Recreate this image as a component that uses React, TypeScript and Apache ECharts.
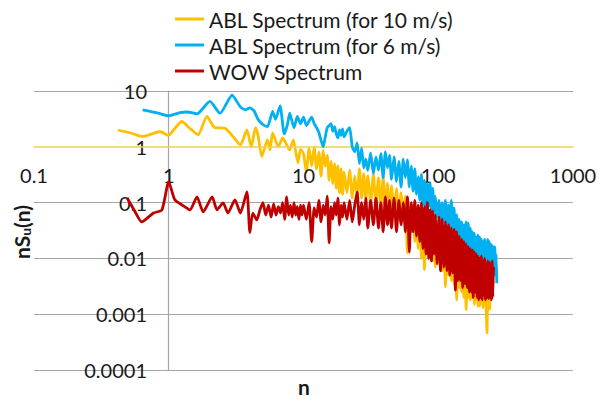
import React, { useEffect, useRef } from "react";
import * as echarts from "echarts";

const seriesNames = ["ABL Spectrum (for 10 m/s)", "ABL Spectrum (for 6 m/s)", "WOW Spectrum"];
const seriesColors = ["#FFC000", "#00B0F0", "#C00000"];
const xTickLabels = ["0.1", "1", "10", "100", "1000"];
const yTickLabels = ["0.0001", "0.001", "0.01", "0.1", "1", "10"];

// shared frequency grid (n >= 10)
const nGrid = [
  10, 10.5, 11, 11.5, 12, 12.5, 13, 13.5, 14, 14.5, 15, 15.5, 16, 16.5, 17, 17.5, 18, 18.5, 19, 19.5, 20,
  21, 22, 23, 24, 25, 26, 27, 28, 29, 30,
  31.5, 33, 34.5, 36, 37.5, 39, 40.5, 42, 43.5, 45,
  47, 49, 51, 53, 55, 57, 59, 61, 63, 65,
  67, 69, 71, 73, 75, 77, 79, 81, 83, 85,
  87, 89, 91, 93, 95, 98, 101, 104, 107, 110,
  113, 116, 119, 122, 125, 128, 131, 134, 137, 140,
  143, 146, 149, 152, 155, 158, 161, 164, 167, 170,
  173, 176, 179, 182, 185, 188, 191, 194, 197, 200,
  203, 206, 209, 212, 215, 218, 221, 224, 227, 230,
  233, 236, 239, 242, 245, 248, 251, 254, 257, 260,
  263, 266, 269, 272,
];

// ABL 10 m/s
const orangeLow: [number, number][] = [
  [0.42, 2.0], [0.53, 1.75], [0.64, 1.53], [0.75, 1.7], [0.86, 1.88], [0.99, 1.6], [1.12, 2.2],
  [1.25, 2.84], [1.45, 2.1], [1.65, 1.64], [1.92, 3.5], [2.2, 2.2], [2.6, 2.17], [3.0, 1.53],
  [3.4, 1.08], [3.8, 2.0], [4.1, 1.0], [4.4, 2.2], [4.6, 1.6], [4.9, 0.67], [5.4, 1.33], [5.65, 0.88],
  [5.9, 1.78], [6.5, 1.0], [7.0, 1.45], [7.9, 0.88], [8.4, 1.33], [9.1, 0.52], [9.5, 0.9],
];
const orangeGrid = [
  0.75, 0.35, 0.95, 0.45, 1.0, 0.4, 0.8, 0.3, 0.85, 0.45, 0.7, 0.25, 0.55, 0.22, 0.5, 0.18, 0.45, 0.15, 0.4, 0.14, 0.35,
  0.15, 0.38, 0.12, 0.3, 0.13, 0.4, 0.12, 0.33, 0.11, 0.3,
  0.1, 0.32, 0.09, 0.28, 0.08, 0.3, 0.07, 0.22, 0.043, 0.2,
  0.07, 0.18, 0.05, 0.15, 0.06, 0.13, 0.0126, 0.1, 0.03, 0.09,
  0.02, 0.08, 0.015, 0.07, 0.01, 0.06, 0.0063, 0.05, 0.012, 0.045,
  0.01, 0.04, 0.009, 0.035, 0.007, 0.03, 0.008, 0.025, 0.006, 0.022,
  0.0031, 0.02, 0.005, 0.018, 0.004, 0.015, 0.0035, 0.012, 0.0018, 0.011,
  0.003, 0.01, 0.0025, 0.009, 0.002, 0.008, 0.0012, 0.007, 0.002, 0.006,
  0.0018, 0.006, 0.002, 0.0055, 0.0015, 0.005, 0.0018, 0.005, 0.0014, 0.0045,
  0.0014, 0.005, 0.0016, 0.0045, 0.0013, 0.004, 0.0015, 0.0035, 0.0012, 0.00046,
  0.003, 0.0012, 0.0028, 0.0012,
];

// ABL 6 m/s
const blueLow: [number, number][] = [
  [0.64, 4.6], [0.82, 4.06], [1.0, 3.6], [1.21, 4.1], [1.37, 4.2], [1.62, 3.9], [2.02, 6.5],
  [2.4, 4.0], [2.95, 8.4], [3.4, 5.2], [3.7, 4.6], [4.0, 5.0], [4.3, 4.4], [4.6, 3.1], [5.0, 2.5],
  [5.4, 2.3], [5.9, 4.3], [6.2, 3.1], [6.7, 5.4], [7.2, 1.7], [7.6, 2.5], [7.9, 4.0], [8.5, 2.2],
  [9.0, 3.5], [9.5, 2.6],
];
const blueGrid = [
  3.4, 2.4, 2.9, 3.4, 2.6, 2.2, 1.8, 1.3, 1.0, 1.5, 2.2, 2.4, 2.6, 1.9, 2.3, 1.7, 1.45, 2.0, 1.6, 2.1, 1.5,
  1.9, 2.2, 1.0, 0.81, 1.17, 0.5, 0.95, 0.42, 0.6, 0.38,
  0.78, 0.33, 0.66, 0.38, 0.75, 0.28, 0.81, 0.42, 0.7, 0.26,
  0.66, 0.24, 0.55, 0.19, 0.6, 0.28, 0.58, 0.19, 0.45, 0.16,
  0.4, 0.14, 0.29, 0.11, 0.32, 0.09, 0.25, 0.07, 0.22, 0.085,
  0.22, 0.075, 0.18, 0.065, 0.13, 0.055, 0.11, 0.042, 0.1, 0.045,
  0.11, 0.035, 0.09, 0.03, 0.11, 0.027, 0.08, 0.022, 0.06, 0.018,
  0.05, 0.015, 0.045, 0.018, 0.04, 0.014, 0.045, 0.013, 0.043, 0.011,
  0.035, 0.011, 0.03, 0.01, 0.028, 0.0095, 0.024, 0.011, 0.026, 0.009,
  0.024, 0.0085, 0.022, 0.0095, 0.02, 0.0075, 0.022, 0.0085, 0.019, 0.009,
  0.022, 0.0075, 0.02, 0.0085, 0.018, 0.0065, 0.017, 0.0075, 0.016, 0.0055,
  0.016, 0.005, 0.012, 0.0036,
];

// WOW
const redLow: [number, number][] = [
  [0.49, 0.122], [0.56, 0.07], [0.63, 0.045], [0.77, 0.065], [0.89, 0.074], [1.0, 0.236], [1.11, 0.112],
  [1.32, 0.084], [1.44, 0.074], [1.62, 0.127], [1.8, 0.068], [2.1, 0.127], [2.28, 0.074], [2.53, 0.099],
  [2.75, 0.065], [3.1, 0.112], [3.4, 0.065], [3.8, 0.156], [4.0, 0.029], [4.2, 0.065], [4.5, 0.049],
  [4.75, 0.074], [5.0, 0.1], [5.25, 0.06], [5.5, 0.09], [5.75, 0.055], [6.0, 0.095], [6.25, 0.06],
  [6.5, 0.085], [6.75, 0.065], [7.0, 0.1], [7.25, 0.05], [7.5, 0.127], [7.75, 0.06], [8.0, 0.09],
  [8.25, 0.055], [8.5, 0.1], [8.75, 0.06], [9.0, 0.085], [9.25, 0.05], [9.5, 0.09], [9.75, 0.06],
];
const redGrid = [
  0.09, 0.05, 0.1, 0.02, 0.08, 0.055, 0.11, 0.045, 0.09, 0.06, 0.13, 0.019, 0.085, 0.05, 0.1, 0.06, 0.12, 0.04, 0.09, 0.055, 0.1,
  0.05, 0.11, 0.045, 0.09, 0.156, 0.04, 0.1, 0.05, 0.12, 0.035,
  0.11, 0.04, 0.12, 0.035, 0.1, 0.03, 0.127, 0.04, 0.11, 0.035,
  0.12, 0.03, 0.11, 0.04, 0.1, 0.03, 0.127, 0.013, 0.1, 0.03,
  0.11, 0.025, 0.09, 0.02, 0.1, 0.015, 0.085, 0.012, 0.1, 0.01,
  0.074, 0.009, 0.07, 0.012, 0.06, 0.008, 0.055, 0.006, 0.05, 0.007,
  0.045, 0.006, 0.04, 0.005, 0.035, 0.0055, 0.033, 0.0027, 0.03, 0.004,
  0.025, 0.004, 0.022, 0.003, 0.02, 0.0035, 0.018, 0.003, 0.016, 0.0025,
  0.015, 0.0025, 0.014, 0.002, 0.013, 0.0025, 0.012, 0.002, 0.011, 0.0018,
  0.01, 0.002, 0.011, 0.0018, 0.009, 0.0022, 0.01, 0.0018, 0.008, 0.002,
  0.009, 0.0019, 0.0085, 0.002, 0.008, 0.0018, 0.009, 0.002, 0.007,
];

const build = (low: [number, number][], grid: number[]) =>
  low.concat(grid.map((v, i) => [nGrid[i], v] as [number, number]));

const FONT = "Lato";

export default function App() {
  const ref = useRef<HTMLDivElement>(null);
  useEffect(() => {
    if (!ref.current) return;
    const chart = echarts.init(ref.current, undefined, { renderer: "svg" });
    const datasets = [build(orangeLow, orangeGrid), build(blueLow, blueGrid), build(redLow, redGrid)];
    chart.setOption({
      animation: false,
      backgroundColor: "#ffffff",
      textStyle: { fontFamily: FONT, color: "#1a1a1a" },
      grid: { left: 34, right: 26, top: 91, bottom: 29, containLabel: false, outerBoundsMode: "none" },
      legend: {
        orient: "vertical",
        left: 170,
        top: 3,
        itemWidth: 29,
        itemHeight: 3,
        itemGap: 4,
        icon: "rect",
        textStyle: { fontFamily: FONT, fontSize: 21, lineHeight: 22, color: "#1a1a1a" },
        data: seriesNames,
      },
      xAxis: {
        type: "log",
        logBase: 10,
        min: 0.1,
        max: 1000,
        position: "bottom",
        offset: -223,
        z: 3,
        axisLine: { show: true, lineStyle: { color: "#F2CF55", width: 1.5 } },
        axisTick: { show: false },
        splitLine: { show: false },
        axisLabel: {
          margin: 18,
          fontSize: 20,
          fontFamily: FONT,
          color: "#1a1a1a",
          showMinLabel: true,
          showMaxLabel: true,
          formatter: (v: number) => xTickLabels[Math.round(Math.log10(v)) + 1] ?? "",
        },
      },
      yAxis: {
        type: "log",
        logBase: 10,
        min: 0.0001,
        max: 10,
        position: "left",
        offset: -134,
        axisLine: { show: true, lineStyle: { color: "#A6A6A6", width: 1.2 } },
        axisTick: { show: false },
        splitLine: {
          show: true,
          lineStyle: {
            color: ["#A6A6A6", "#A6A6A6", "#A6A6A6", "#A6A6A6", "rgba(0,0,0,0)", "#A6A6A6"],
            width: 1.2,
          },
        },
        axisLabel: {
          margin: 21,
          fontSize: 20,
          fontFamily: FONT,
          color: "#1a1a1a",
          showMinLabel: true,
          showMaxLabel: true,
          formatter: (v: number) => yTickLabels[Math.round(Math.log10(v)) + 4] ?? "",
        },
      },
      graphic: [
        {
          type: "text",
          x: 21,
          y: 232,
          rotation: Math.PI / 2,
          style: {
            text: "{a|nS}{b|u}{a|(n)}",
            align: "center",
            verticalAlign: "middle",
            fill: "#1a1a1a",
            rich: {
              a: { fontSize: 21, fontWeight: "bold", fontFamily: FONT, fill: "#1a1a1a" },
              b: { fontSize: 14, fontWeight: "bold", fontFamily: FONT, fill: "#1a1a1a", padding: [9, 0, 0, 0] },
            },
          },
        },
        {
          type: "text",
          x: 304,
          y: 386,
          style: {
            text: "n",
            align: "center",
            verticalAlign: "middle",
            fontSize: 21,
            fontWeight: "bold",
            fontFamily: FONT,
            fill: "#1a1a1a",
          },
        },
      ],
      series: seriesNames.map((name, i) => ({
        name,
        type: "line",
        data: datasets[i],
        showSymbol: false,
        symbol: "none",
        color: seriesColors[i],
        lineStyle: { color: seriesColors[i], width: 2.8 },
        smooth: 0.2,
        z: 2 + i,
      })),
    });
    return () => chart.dispose();
  }, []);
  return (
    <div
      ref={ref}
      style={{ position: "absolute", left: 0, top: 0, width: 599, height: 399, background: "#fff" }}
    />
  );
}
